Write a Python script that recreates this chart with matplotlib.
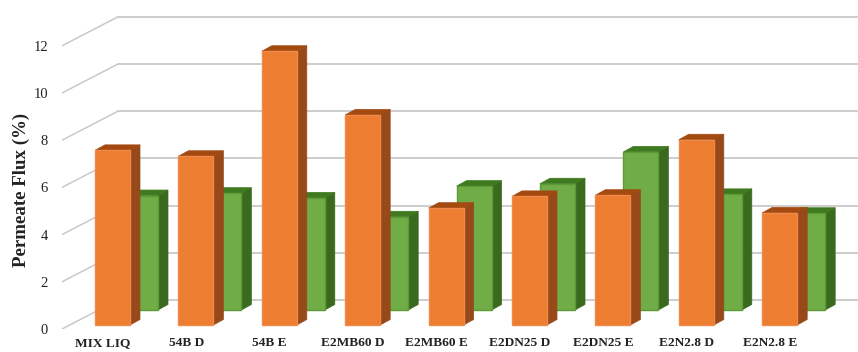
import numpy as np
import matplotlib
matplotlib.use('Agg')
import matplotlib.pyplot as plt

categories = ['MIX LIQ', '54B D', '54B E', 'E2MB60 D', 'E2MB60 E',
              'E2DN25 D', 'E2DN25 E', 'E2N2.8 D', 'E2N2.8 E']
orange_values = [7.4, 7.15, 11.6, 8.9, 4.95, 5.45, 5.5, 7.85, 4.75]
green_values = [4.85, 4.95, 4.75, 3.95, 5.25, 5.35, 6.7, 4.9, 4.1]
y_ticks = [0, 2, 4, 6, 8, 10, 12]

# scale of the axes, pixels per unit
PX_X = 83.4
PX_Y = 23.6
W, H = 858, 352
FRONT_LEFT = 62
FRONT_ZERO = 329
CAT0 = 103


def dx(px):
    return px / PX_X


def dy(px):
    return px / PX_Y


def bar_3d(ax, x, value, base, color, side, top, edge, zorder):
    # front face, then the side and top faces
    width = dx(35)
    depth_x, depth_y = dx(10), dy(5.5)
    ax.bar(x, value, width=width, bottom=base, align='edge', color=color,
           edgecolor=edge, linewidth=1.0, zorder=zorder + 0.2)
    y_top = base + value
    ax.fill([x + width, x + width + depth_x, x + width + depth_x, x + width],
            [base, base + depth_y, y_top + depth_y, y_top],
            color=side, linewidth=0.5, zorder=zorder)
    ax.fill([x, x + depth_x, x + width + depth_x, x + width],
            [y_top, y_top + depth_y, y_top + depth_y, y_top],
            color=top, linewidth=0.5, zorder=zorder + 0.1)


def main():
    plt.rcParams['font.family'] = ['Liberation Serif', 'DejaVu Serif']
    fig = plt.figure(figsize=(W / 100, H / 100), dpi=100)
    ax = fig.add_axes([FRONT_LEFT / W, 1 - FRONT_ZERO / H,
                       (W - FRONT_LEFT) / W, FRONT_ZERO / H])
    ax.set_xlim((FRONT_LEFT - CAT0) / PX_X, (W - CAT0) / PX_X)
    ax.set_ylim(0, FRONT_ZERO / PX_Y)

    # floor-to-wall offset of the back wall
    wall_x, wall_y = dx(56), dy(29)
    x_left = ax.get_xlim()[0]
    x_right = ax.get_xlim()[1]
    for t in y_ticks:
        ax.plot([x_left, x_left + wall_x], [t, t + wall_y], color='#c9c9c9',
                lw=1.1, zorder=1, solid_capstyle='round')
        ax.plot([x_left + wall_x, x_right], [t + wall_y, t + wall_y],
                color='#c9c9c9', lw=1.3, zorder=1)

    x = np.arange(len(categories))
    for i in x:
        bar_3d(ax, i + dx(20), green_values[i], dy(19), '#70ad47', '#3a6a1e',
               '#3f7a20', '#5c9a35', zorder=2 + i * 0.01)
    for i in x:
        bar_3d(ax, i - dx(8), orange_values[i], dy(4), '#ed7d31', '#97491a',
               '#a24a10', '#f0894a', zorder=3 + i * 0.01)

    ax.set_xticks(x)
    ax.set_xticklabels(categories, fontsize=9.6, fontweight='bold', color='#222222')
    ax.set_yticks(y_ticks)
    ax.set_yticklabels([str(t) for t in y_ticks], fontsize=10.5, color='#222222')
    ax.tick_params(axis='both', length=0)
    ax.tick_params(axis='x', pad=6)
    ax.tick_params(axis='y', pad=10)
    for s in ax.spines.values():
        s.set_visible(False)

    fig.text(21 / W, 1 - 190 / H, 'Permeate Flux (%)', rotation=90, fontsize=13.6,
             fontweight='bold', color='#222222', ha='center', va='center')

    fig.savefig('out.png', dpi=100)


if __name__ == '__main__':
    main()
